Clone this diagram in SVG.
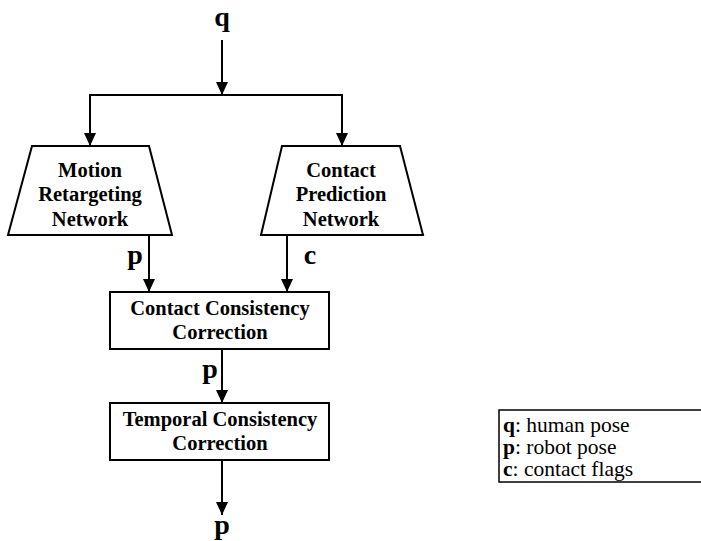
<svg xmlns="http://www.w3.org/2000/svg" width="701" height="541" viewBox="0 0 701 541">
<defs>
<style>
.n{fill:#fff;stroke:#000;stroke-width:2}
.t{font-family:"Liberation Serif","Times New Roman",serif;font-weight:bold;font-size:20.5px;text-anchor:middle;fill:#000}
.lbl{font-family:"Liberation Serif","Times New Roman",serif;font-weight:bold;font-size:28px;text-anchor:middle;fill:#000}
.lg{font-family:"Liberation Serif","Times New Roman",serif;font-size:21.5px;fill:#000}
.c{fill:none;stroke:#000;stroke-width:2}
</style>
<marker id="ah" markerWidth="13" markerHeight="12" viewBox="0 0 13 12" refX="13" refY="6" orient="auto" markerUnits="userSpaceOnUse">
<path d="M0,0 L13,6 L0,12 Z" fill="#000"/>
</marker>
</defs>
<rect width="701" height="541" fill="#fff"/>
<g id="connectors">
<line class="c" x1="222" y1="40" x2="222" y2="95" marker-end="url(#ah)"/>
<polyline class="c" points="90,146 90,95 342,95 342,146" marker-end="url(#ah)"/>
<line class="c" x1="90" y1="95" x2="90" y2="146" marker-end="url(#ah)"/>
<line class="c" x1="149" y1="235" x2="149" y2="292" marker-end="url(#ah)"/>
<line class="c" x1="287" y1="235" x2="287" y2="292" marker-end="url(#ah)"/>
<line class="c" x1="222" y1="349" x2="222" y2="403" marker-end="url(#ah)"/>
<line class="c" x1="222" y1="460" x2="222" y2="515" marker-end="url(#ah)"/>
<text class="lbl" x="222" y="26">q</text>
<text class="lbl" x="135" y="264">p</text>
<text class="lbl" x="310" y="264">c</text>
<text class="lbl" x="210" y="378">p</text>
<text class="lbl" x="222" y="534">p</text>
</g>
<g id="motion">
<polygon class="n" points="32,146 149,146 172,235 8,235"/>
<text class="t" x="90" y="177">Motion</text>
<text class="t" x="90" y="201">Retargeting</text>
<text class="t" x="90" y="226">Network</text>
</g>
<g id="contact">
<polygon class="n" points="282,146 400,146 423,235 261,235"/>
<text class="t" x="341" y="177">Contact</text>
<text class="t" x="341" y="201">Prediction</text>
<text class="t" x="341" y="226">Network</text>
</g>
<g id="ccc">
<rect class="n" x="110" y="292" width="219" height="57"/>
<text class="t" x="220" y="315">Contact Consistency</text>
<text class="t" x="220" y="339">Correction</text>
</g>
<g id="tcc">
<rect class="n" x="110" y="403" width="219" height="57"/>
<text class="t" x="220" y="426">Temporal Consistency</text>
<text class="t" x="220" y="450">Correction</text>
</g>
<g id="legend">
<rect x="499" y="410" width="210" height="72" fill="#fff" stroke="#000" stroke-width="1.5"/>
<text class="lg" x="503" y="432"><tspan font-weight="bold">q</tspan>: human pose</text>
<text class="lg" x="503" y="454"><tspan font-weight="bold">p</tspan>: robot pose</text>
<text class="lg" x="503" y="476"><tspan font-weight="bold">c</tspan>: contact flags</text>
</g>
</svg>
